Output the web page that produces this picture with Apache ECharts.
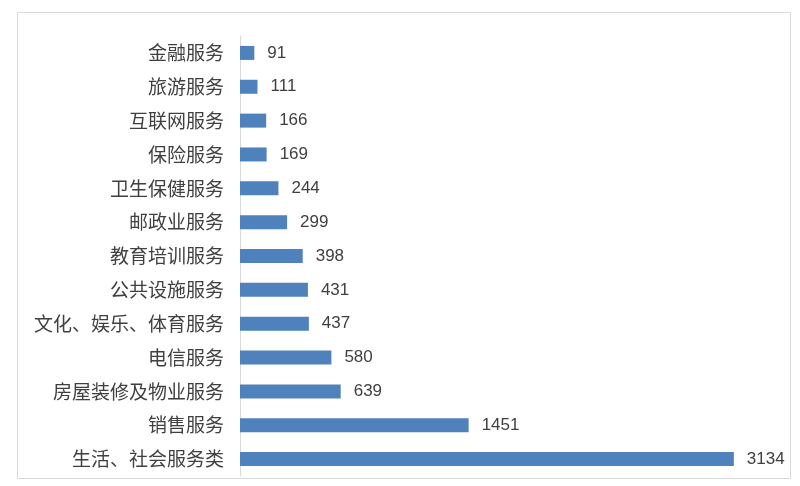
<!DOCTYPE html>
<html>
<head>
<meta charset="utf-8">
<script src="https://cdn.jsdelivr.net/npm/echarts@6/dist/echarts.min.js"></script>
<style>
  html, body { margin: 0; padding: 0; background: #fff; }
  #chart { width: 800px; height: 486px; }
</style>
</head>
<body>
<div id="chart"></div>
<script>
// 类别从上到下
var categories = ['金融服务', '旅游服务', '互联网服务', '保险服务', '卫生保健服务', '邮政业服务',
    '教育培训服务', '公共设施服务', '文化、娱乐、体育服务', '电信服务', '房屋装修及物业服务',
    '销售服务', '生活、社会服务类'];
var values = [91, 111, 166, 169, 244, 299, 398, 431, 437, 580, 639, 1451, 3134];

var chart = echarts.init(document.getElementById('chart'));

var option = {
    animation: false,
    graphic: [{
        type: 'rect',
        shape: { x: 17.5, y: 12.5, width: 773, height: 466 },
        style: { fill: 'none', stroke: '#d9d9d9', lineWidth: 1 }
    }],
    grid: {
        left: 240,
        right: 40,
        top: 36,
        bottom: 10
    },
    xAxis: {
        type: 'value',
        min: 0,
        max: 3300,
        show: false
    },
    yAxis: {
        type: 'category',
        inverse: true,
        data: categories,
        axisLine: { lineStyle: { color: '#d9d9d9' } },
        axisTick: { inside: false, length: 5, lineStyle: { color: '#d9d9d9' } },
        axisLabel: {
            color: '#404040',
            fontSize: 19,
            margin: 16,
            fontFamily: 'Noto Sans CJK SC'
        }
    },
    series: [{
        type: 'bar',
        data: values,
        barWidth: 14,
        itemStyle: { color: '#4f81bd' },
        label: {
            show: true,
            position: 'right',
            distance: 13,
            color: '#404040',
            fontSize: 17,
            fontFamily: 'Liberation Sans'
        }
    }]
};

chart.setOption(option);
</script>
</body>
</html>
